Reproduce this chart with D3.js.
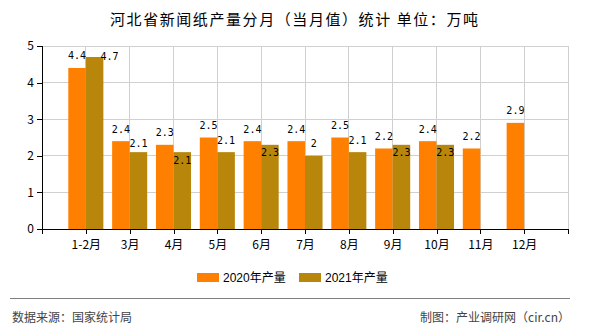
<!DOCTYPE html>
<html><head><meta charset="utf-8">
<script src="https://cdn.jsdelivr.net/npm/d3@7"></script>
<style>body{margin:0;background:#fff}svg{display:block}</style>
</head><body><svg id="c" width="590" height="330"></svg>
<script>
const categories = ["1-2月","3月","4月","5月","6月","7月","8月","9月","10月","11月","12月"];
const values2020 = [4.4,2.4,2.3,2.5,2.4,2.4,2.5,2.2,2.4,2.2,2.9];
const values2021 = [4.7,2.1,2.1,2.1,2.3,2.0,2.1,2.3,2.3,null,null];
const seriesNames = ["2020年产量","2021年产量"];
const yTicks = [0,1,2,3,4,5];
const colors = ["#FF8000","#B8860B"];

const svg = d3.select("#c");
const L=42, R=568, T=46, B=229;
const x = d3.scalePoint().domain(categories).range([L,R]).padding(1);
const y = d3.scaleLinear().domain([0,5]).range([B,T]);
const bw = x.step()*0.4;
const cjk = "'Noto Sans CJK SC','Noto Sans',sans-serif";

svg.append("text").attr("x",110).attr("y",18)
  .attr("dominant-baseline","central").attr("font-family",cjk).attr("font-size",15)
  .attr("textLength",368).attr("lengthAdjust","spacing")
  .attr("fill","#000").text("河北省新闻纸产量分月（当月值）统计 单位：万吨");

// grid
const g = svg.append("g");
g.selectAll("line.h").data(yTicks.filter(d=>d>0)).join("line")
  .attr("x1",L).attr("x2",R).attr("y1",d=>y(d)).attr("y2",d=>y(d))
  .attr("stroke","#d0d0d0").attr("stroke-width",1).attr("shape-rendering","crispEdges");
g.selectAll("line.v").data(categories).join("line")
  .attr("x1",d=>x(d)).attr("x2",d=>x(d)).attr("y1",T).attr("y2",B)
  .attr("stroke","#d0d0d0").attr("shape-rendering","crispEdges");
g.append("line").attr("x1",R).attr("x2",R).attr("y1",T).attr("y2",B)
  .attr("stroke","#d0d0d0").attr("shape-rendering","crispEdges");

// bars
const series = [values2020, values2021];
series.forEach((vals,si)=>{
  svg.append("g").selectAll("rect").data(categories.map((c,i)=>({c,v:vals[i]})).filter(d=>d.v!=null))
    .join("rect")
    .attr("x",d=>si===0 ? x(d.c)-bw : x(d.c))
    .attr("width",bw)
    .attr("y",d=>y(d.v)).attr("height",d=>B-y(d.v))
    .attr("fill",colors[si]);
});

// axes
const ya = svg.append("g").attr("transform",`translate(${L},0)`)
  .call(d3.axisLeft(y).tickValues(yTicks).tickSize(5).tickFormat(d3.format("d")));
const xa = svg.append("g").attr("transform",`translate(0,${B})`)
  .call(d3.axisBottom(x).tickSize(5).tickPadding(6));
[ya,xa].forEach(a=>{
  a.select(".domain").attr("stroke","#000").attr("shape-rendering","crispEdges");
  a.selectAll(".tick line").attr("stroke","#000").attr("shape-rendering","crispEdges");
  a.selectAll("text").attr("font-family",cjk).attr("font-size",12).attr("fill","#000");
});
xa.select(".domain").attr("d",`M${L},0.5H${R}`);
[L,R].forEach(px=>xa.append("line").attr("x1",px).attr("x2",px).attr("y1",0).attr("y2",5)
  .attr("stroke","#000").attr("shape-rendering","crispEdges"));
ya.select(".domain").attr("d",`M0.5,${B}V${T}`);

// labels with simple collision avoidance
const CW=6.02, LH=12;
const fmt = v=>String(v);
const boxes = [];
const labels = [];
categories.forEach((c,i)=>{
  const v=values2020[i];
  if(v==null) return;
  const t=fmt(v), cx=x(c)-bw/2, cy=y(v)-12;
  labels.push({t,cx,cy}); boxes.push({cx,cy,w:t.length*CW});
});
function hit(a){return boxes.some(b=>Math.abs(a.cx-b.cx)<(a.w+b.w)/2 && Math.abs(a.cy-b.cy)<LH);}
categories.forEach((c,i)=>{
  const v=values2021[i];
  if(v==null) return;
  const t=fmt(v), w=t.length*CW, bx=x(c)+bw/2, top=y(v);
  const cands=[{cx:bx,cy:top-12},{cx:bx,cy:top-9},{cx:bx,cy:top+8},{cx:bx+15,cy:top}];
  let p=cands.find(q=>!hit({...q,w}))||cands[cands.length-1];
  labels.push({t,cx:p.cx,cy:p.cy}); boxes.push({cx:p.cx,cy:p.cy,w});
});
svg.append("g").selectAll("text").data(labels).join("text")
  .attr("x",d=>d.cx).attr("y",d=>d.cy).attr("text-anchor","middle")
  .attr("dominant-baseline","central").attr("font-family","'DejaVu Sans Mono',monospace")
  .attr("font-size",10).attr("fill","#000").text(d=>d.t);

// legend
const lg = svg.append("g");
const lx=[197,299];
seriesNames.forEach((n,i)=>{
  lg.append("rect").attr("x",lx[i]).attr("y",273).attr("width",22).attr("height",9).attr("fill",colors[i]);
  lg.append("text").attr("x",lx[i]+26).attr("y",278).attr("dominant-baseline","central")
    .attr("font-size",12).attr("fill","#000").text(n)
    .style("font-family","'Liberation Sans','Noto Sans CJK SC',sans-serif");
});

// footer
svg.append("line").attr("x1",10).attr("x2",570).attr("y1",298.5).attr("y2",298.5).attr("stroke","#808080");
svg.append("text").attr("x",12).attr("y",316).attr("dominant-baseline","central")
  .attr("font-family",cjk).attr("font-size",12).attr("fill","#444").text("数据来源：国家统计局");
svg.append("text").attr("x",570).attr("y",316).attr("text-anchor","end").attr("dominant-baseline","central")
  .attr("font-family",cjk).attr("font-size",12).attr("fill","#444").text("制图：产业调研网（cir.cn）");
</script></body></html>
